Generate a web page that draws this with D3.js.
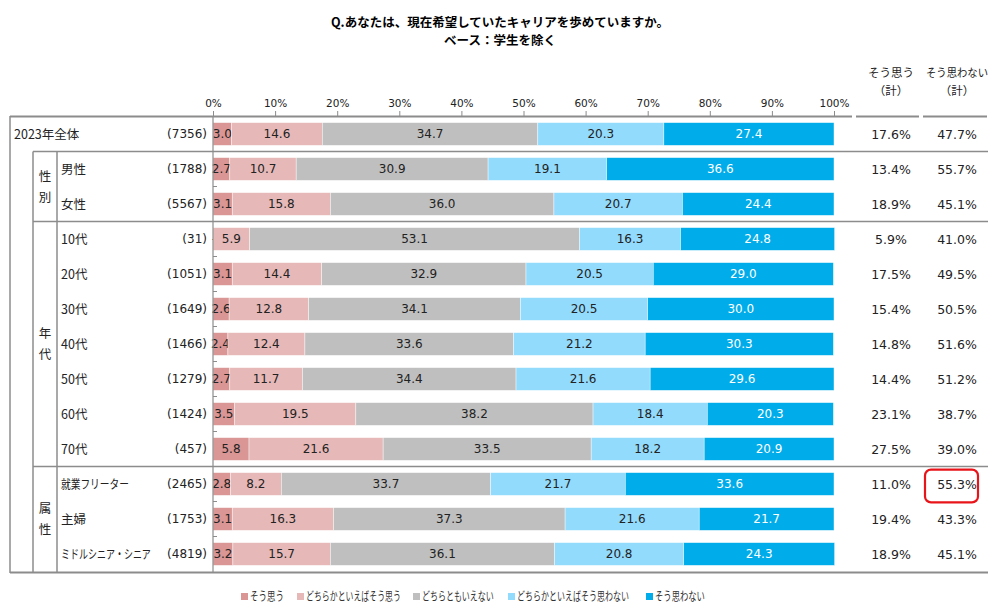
<!DOCTYPE html>
<html><head><meta charset="utf-8">
<script src="https://cdn.jsdelivr.net/npm/d3@7"></script>
<style>body{margin:0;background:#fff}svg{display:block}</style>
</head><body>
<svg id="c" width="1000" height="611"></svg>
<script>
const categories = ["2023年全体","男性","女性","10代","20代","30代","40代","50代","60代","70代","就業フリーター","主婦","ミドルシニア・シニア"];
const counts = ["(7356)","(1788)","(5567)","(31)","(1051)","(1649)","(1466)","(1279)","(1424)","(457)","(2465)","(1753)","(4819)"];
const seriesNames = ["そう思う","どちらかといえばそう思う","どちらともいえない","どちらかといえばそう思わない","そう思わない"];
const s1 = [3.0,2.7,3.1,0.0,3.1,2.6,2.4,2.7,3.5,5.8,2.8,3.1,3.2];
const s2 = [14.6,10.7,15.8,5.9,14.4,12.8,12.4,11.7,19.5,21.6,8.2,16.3,15.7];
const s3 = [34.7,30.9,36.0,53.1,32.9,34.1,33.6,34.4,38.2,33.5,33.7,37.3,36.1];
const s4 = [20.3,19.1,20.7,16.3,20.5,20.5,21.2,21.6,18.4,18.2,21.7,21.6,20.8];
const s5 = [27.4,36.6,24.4,24.8,29.0,30.0,30.3,29.6,20.3,20.9,33.6,21.7,24.3];
const agreeTotal = ["17.6%","13.4%","18.9%","5.9%","17.5%","15.4%","14.8%","14.4%","23.1%","27.5%","11.0%","19.4%","18.9%"];
const disagreeTotal = ["47.7%","55.7%","45.1%","41.0%","49.5%","50.5%","51.6%","51.2%","38.7%","39.0%","55.3%","43.3%","45.1%"];
const tickValues = [0,10,20,30,40,50,60,70,80,90,100];
const groups = [{name:"性別",from:1,to:2},{name:"年代",from:3,to:9},{name:"属性",from:10,to:12}];
const colors = ["#D99694","#E6B9B8","#BFBFBF","#93DBFD","#00ACEA"];

const svg = d3.select("#c");
const NUM = "'DejaVu Sans','Noto Sans CJK JP',sans-serif";
const JP = "'Noto Sans CJK JP','Noto Sans',sans-serif";
const LINE = "#8c8c8c";

const x = d3.scaleLinear().domain([0,100]).range([213,834]);
const y = d3.scaleBand().domain(categories).range([116.5,571.5]).paddingInner(0.35).paddingOuter(0.175);
const step = y.step();

// text squeezed horizontally to a target width via transform
function squeezed(parent, tx, ty, str, size, targetW, fill, anchor){
  const g = parent.append("g").attr("transform",`translate(${tx},${ty})`);
  const t = g.append("text").attr("x",0).attr("y",0).attr("dy","0.36em")
    .style("font-family",JP).style("font-size",size+"px").attr("fill",fill).text(str);
  if (anchor) t.attr("text-anchor",anchor);
  const w = t.node().getComputedTextLength();
  if (targetW && w > targetW) t.attr("transform",`scale(${targetW/w},1)`);
  return t;
}

// title
svg.append("text").attr("x",500).attr("y",27).attr("text-anchor","middle")
  .style("font-family",JP).style("font-size","12.5px").style("font-weight","bold")
  .text("Q.あなたは、現在希望していたキャリアを歩めていますか。");
svg.append("text").attr("x",500).attr("y",45).attr("text-anchor","middle")
  .style("font-family",JP).style("font-size","12.5px").style("font-weight","bold")
  .text("ベース：学生を除く");

// axis
const axis = d3.axisTop(x).tickValues(tickValues).tickFormat(d=>d+"%").tickSize(5).tickPadding(4);
const ag = svg.append("g").attr("transform","translate(0,116)").call(axis);
ag.select(".domain").remove();
ag.selectAll(".tick line").attr("stroke",LINE);
ag.selectAll(".tick text").style("font-family",NUM).style("font-size","10.5px").attr("fill","#222");

// stack
const table = categories.map((c,i)=>({cat:c, v:[s1[i],s2[i],s3[i],s4[i],s5[i]]}));
const bars = svg.append("g");
table.forEach((row,i)=>{
  let acc = 0;
  row.v.forEach((v,k)=>{
    const x0 = x(acc), x1 = x(acc+v);
    acc += v;
    bars.append("rect").attr("x",x0).attr("y",y(row.cat)).attr("width",Math.max(0,x1-x0)).attr("height",y.bandwidth())
      .attr("fill",colors[k]).attr("stroke","#ffffff").attr("stroke-width",0.6).attr("stroke-opacity",0.7);
    const cy = y(row.cat)+y.bandwidth()/2;
    if (v===0){
      bars.append("text").attr("x",x0+1).attr("y",cy).attr("dy","0.35em").attr("text-anchor","middle")
        .style("font-family",NUM).style("font-size","12px").attr("fill","#222").text("-");
    } else {
      bars.append("text").attr("x",(x0+x1)/2).attr("y",cy).attr("dy","0.36em").attr("text-anchor","middle")
        .style("font-family",NUM).style("font-size","12px").attr("fill",k===4?"#ffffff":"#222")
        .text(v.toFixed(1));
    }
  });
});

// left labels
const labelMax = {"就業フリーター":68,"ミドルシニア・シニア":90};
categories.forEach((c,i)=>{
  const cy = y(c)+y.bandwidth()/2;
  squeezed(svg, i===0?14:61, cy, c, 12.5, labelMax[c], "#222");
  svg.append("text").attr("x",207).attr("y",cy).attr("dy","0.36em").attr("text-anchor","end")
    .style("font-family",NUM).style("font-size","12px").attr("fill","#222").text(counts[i]);
  svg.append("text").attr("x",891).attr("y",cy).attr("dy","0.36em").attr("text-anchor","middle")
    .style("font-family",NUM).style("font-size","12.5px").attr("fill","#222").text(agreeTotal[i]);
  svg.append("text").attr("x",957).attr("y",cy).attr("dy","0.36em").attr("text-anchor","middle")
    .style("font-family",NUM).style("font-size","12.5px").attr("fill","#222").text(disagreeTotal[i]);
  if (i>0){
    const by = y(c) - (step - y.bandwidth())/2;
    if (!groups.some(g=>g.from===i)) svg.append("line").attr("x1",213).attr("x2",217).attr("y1",by).attr("y2",by).attr("stroke",LINE);
  }
});

// group labels (vertical)
groups.forEach(g=>{
  const top = y(categories[g.from]), bot = y(categories[g.to])+y.bandwidth();
  const cy = (top+bot)/2;
  const chars = g.name.split("");
  chars.forEach((ch,j)=>{
    svg.append("text").attr("x",45).attr("y",cy + (j-(chars.length-1)/2)*21).attr("dy","0.36em").attr("text-anchor","middle")
      .style("font-family",JP).style("font-size","12.5px").attr("fill","#222").text(ch);
  });
});

// right header
[["そう思う",891,48],["そう思わない",957,62]].forEach(([t,cx,w])=>{
  squeezed(svg, cx, 73, t, 11.5, w, "#222", "middle");
  squeezed(svg, cx, 91, "（計）", 11.5, null, "#222", "middle");
});

// frame lines
const L = (x1,y1,x2,y2,w)=>svg.append("line").attr("x1",x1).attr("y1",y1).attr("x2",x2).attr("y2",y2).attr("stroke",LINE).attr("stroke-width",w||1.5);
L(10,116.5,852,116.5,2); L(856,116.5,919,116.5,2); L(923,116.5,987,116.5,2);
L(10,572.5,988,572.5,2);
L(10,116,10,573); L(33,151.5,33,573); L(57,151.5,57,573);
L(213,116,213,573,1.2);
const sepY = i => y(categories[i]) - (step - y.bandwidth())/2;
L(33,sepY(1),988,sepY(1)); L(33,sepY(3),988,sepY(3)); L(33,sepY(10),988,sepY(10));

// highlight
svg.append("rect").attr("x",925).attr("y",y(categories[10])-3).attr("width",53).attr("height",y.bandwidth()+10).attr("rx",6)
  .attr("fill","none").attr("stroke","#e8141a").attr("stroke-width",2.2);

// legend
const legX = [241,297,413,508,646];
const legW = [34,95,72,112,50];
seriesNames.forEach((n,k)=>{
  svg.append("rect").attr("x",legX[k]).attr("y",593).attr("width",7).attr("height",7).attr("fill",colors[k]);
  squeezed(svg, legX[k]+9, 597, n, 12, legW[k], "#333");
});
</script>
</body></html>
